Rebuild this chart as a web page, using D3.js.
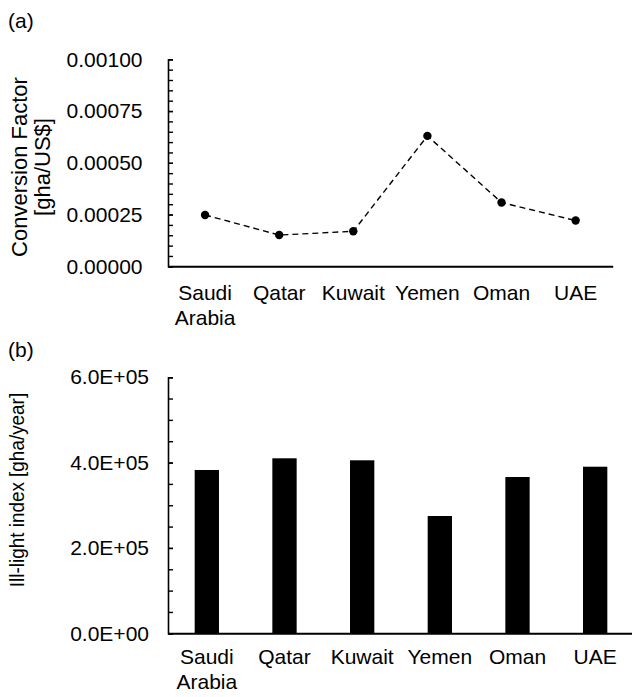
<!DOCTYPE html>
<html>
<head>
<meta charset="utf-8">
<script src="https://cdn.jsdelivr.net/npm/d3@7"></script>
<style>
  html, body { margin: 0; padding: 0; background: #fff; }
  svg { display: block; font-family: "Liberation Sans", Arial, sans-serif; }
</style>
</head>
<body>
<svg id="fig" width="632" height="697"></svg>
<script>
// Countries shown on both panels
const countries = ["Saudi Arabia", "Qatar", "Kuwait", "Yemen", "Oman", "UAE"];
// Panel (a): conversion factor, gha per US$
const conversionFactor = [0.000248, 0.000151, 0.000169, 0.000630, 0.000308, 0.000221];
// Panel (b): Ill-light index, gha per year
const illLightIndex = [382600, 410000, 405300, 274800, 366200, 390300];
// Axis ticks
const factorMajorTicks = [0, 0.00025, 0.0005, 0.00075, 0.001];
const indexMajorTicks = [0, 200000, 400000, 600000];

const svg = d3.select("#fig");
const FONT = 21;

function expLabel(v) {
  const [m, e] = v.toExponential(1).split("e");
  const sign = e[0] === "-" ? "-" : "+";
  return m + "E" + sign + String(Math.abs(+e)).padStart(2, "0");
}

function categoryLabels(axisG, baseline) {
  axisG.selectAll(".tick text").each(function (d) {
    const t = d3.select(this).attr("y", null).attr("dy", null).text(null);
    const words = d.split(" ");
    words.forEach((w, i) => {
      t.append("tspan").attr("x", 0).attr("y", baseline + i * 25.5).text(w);
    });
  });
}

function styleAxis(g, width) {
  g.selectAll(".domain").attr("stroke", "#000").attr("stroke-width", width);
  g.selectAll(".tick line").attr("stroke", "#000").attr("stroke-width", 1.4);
  g.selectAll("text").attr("font-size", FONT).attr("fill", "#000")
    .attr("font-family", "'Liberation Sans', Arial, sans-serif");
}

// ---------- Panel (a): line with markers ----------
{
  const left = 168, right = 612.7, top = 59.3, bottom = 266.3;
  const x = d3.scaleBand().domain(countries).range([left, right]).padding(0);
  const y = d3.scaleLinear().domain([0, 0.001]).range([bottom, top]);

  const minor = d3.range(0, 0.00100001, 0.00005);
  const gMinor = svg.append("g").attr("transform", `translate(${left},0)`)
    .call(d3.axisLeft(y).tickValues(minor).tickSize(-5).tickFormat(""));
  gMinor.select(".domain").remove();
  styleAxis(gMinor, 1.6);

  const gy = svg.append("g").attr("transform", `translate(${left},0)`)
    .call(d3.axisLeft(y).tickValues(factorMajorTicks).tickSizeInner(-5).tickSizeOuter(-5)
      .tickPadding(25.5).tickFormat(d3.format(".5f")));
  styleAxis(gy, 1.6);

  const gx = svg.append("g").attr("transform", `translate(0,${bottom})`)
    .call(d3.axisBottom(x).tickSize(0).tickSizeOuter(0));
  styleAxis(gx, 2);
  categoryLabels(gx, 33.7);

  const pts = countries.map((c, i) => [x(c) + x.bandwidth() / 2, y(conversionFactor[i])]);
  svg.append("path")
    .attr("d", d3.line()(pts))
    .attr("fill", "none").attr("stroke", "#000")
    .attr("stroke-width", 1.4).attr("stroke-dasharray", "6,4");
  svg.append("g").selectAll("circle").data(pts).join("circle")
    .attr("cx", d => d[0]).attr("cy", d => d[1]).attr("r", 4.2).attr("fill", "#000");

  svg.append("text").attr("x", 8).attr("y", 28).attr("font-size", FONT).text("(a)");

  const title = svg.append("text")
    .attr("transform", `translate(27,167) rotate(-90)`)
    .attr("text-anchor", "middle").attr("font-size", 22);
  title.append("tspan").attr("x", 0).attr("y", 0).text("Conversion Factor");
  title.append("tspan").attr("x", 0).attr("y", 23).text("[gha/US$]");
}

// ---------- Panel (b): bars ----------
{
  const left = 168, right = 634, top = 377.2, bottom = 633.3;
  const x = d3.scaleBand().domain(countries).range([left, right])
    .paddingInner(0.687).paddingOuter(0.3435);
  const y = d3.scaleLinear().domain([0, 600000]).range([bottom, top]);

  svg.append("g").selectAll("rect").data(countries).join("rect")
    .attr("x", d => x(d)).attr("width", x.bandwidth())
    .attr("y", (d, i) => y(illLightIndex[i]))
    .attr("height", (d, i) => y(0) - y(illLightIndex[i]))
    .attr("fill", "#000");

  const minor = d3.range(0, 600001, 50000);
  const gMinor = svg.append("g").attr("transform", `translate(${left},0)`)
    .call(d3.axisLeft(y).tickValues(minor).tickSize(-5).tickFormat(""));
  gMinor.select(".domain").remove();
  styleAxis(gMinor, 1.6);

  const gy = svg.append("g").attr("transform", `translate(${left},0)`)
    .call(d3.axisLeft(y).tickValues(indexMajorTicks).tickSizeInner(-5).tickSizeOuter(-5)
      .tickPadding(19).tickFormat(expLabel));
  styleAxis(gy, 1.6);

  const gx = svg.append("g").attr("transform", `translate(0,${bottom})`)
    .call(d3.axisBottom(x).tickSize(0).tickSizeOuter(0));
  styleAxis(gx, 2);
  categoryLabels(gx, 30.7);

  svg.append("text").attr("x", 8).attr("y", 357).attr("font-size", FONT).text("(b)");

  // narrow the title along its run so it fits the axis height
  svg.append("text")
    .attr("transform", `translate(24,490) rotate(-90) scale(0.9,1)`)
    .attr("text-anchor", "middle").attr("font-size", 21)
    .text("Ill-light index [gha/year]");
}
</script>
</body>
</html>
